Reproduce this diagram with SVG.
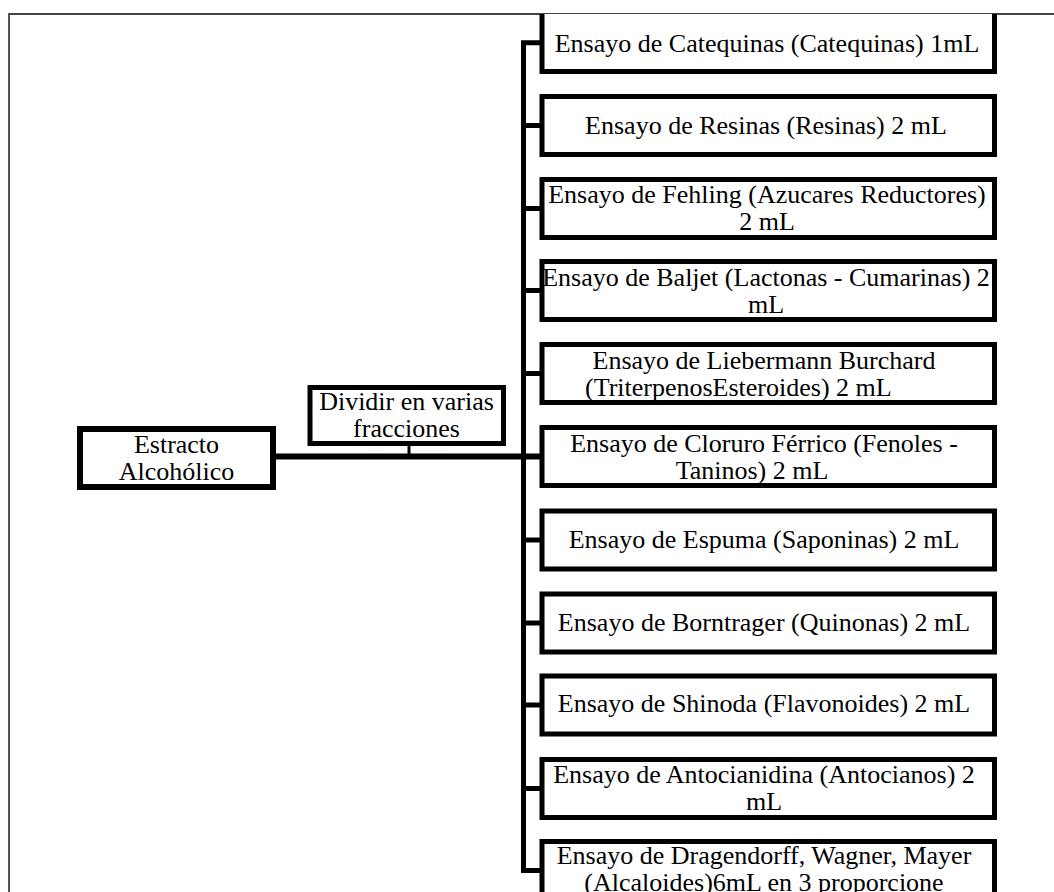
<svg xmlns="http://www.w3.org/2000/svg" width="1054" height="892" viewBox="0 0 1054 892">
<style>
.bx{fill:#fff;stroke:#000;stroke-width:5}
.bxl{fill:#fff;stroke:#000;stroke-width:6}
.t{font-family:"Liberation Serif","Times New Roman",serif;font-size:26px;fill:#000;text-anchor:middle}
.ts{font-family:"Liberation Serif","Times New Roman",serif;font-size:26px;fill:#000;text-anchor:start}
.c{fill:none;stroke:#000;stroke-width:5;stroke-linejoin:miter;stroke-linecap:butt}
</style>
<rect width="1054" height="892" fill="#fff"/>
<path d="M9,892 V14 H1054" fill="none" stroke="#444" stroke-width="1.8"/>
<g id="connectors">
<path class="c" d="M542,42.75 H523.5 V870.5 H542"/>
<line class="c" x1="523.5" y1="125.5" x2="542" y2="125.5"/>
<line class="c" x1="523.5" y1="208.5" x2="542" y2="208.5"/>
<line class="c" x1="523.5" y1="290.5" x2="542" y2="290.5"/>
<line class="c" x1="523.5" y1="373.5" x2="542" y2="373.5"/>
<line class="c" x1="523.5" y1="540" x2="542" y2="540"/>
<line class="c" x1="523.5" y1="623" x2="542" y2="623"/>
<line class="c" x1="523.5" y1="705" x2="542" y2="705"/>
<line class="c" x1="523.5" y1="788.5" x2="542" y2="788.5"/>
<line x1="273" y1="456.5" x2="542" y2="456.5" stroke="#000" stroke-width="6"/>
<line x1="409" y1="443.5" x2="409" y2="456.5" stroke="#000" stroke-width="3"/>
</g>
<g id="n-estracto">
<rect class="bxl" x="80" y="429" width="193" height="58"/>
<text class="t" x="176.5" y="453">Estracto</text>
<text class="t" x="176.5" y="480">Alcohólico</text>
</g>
<g id="n-dividir">
<rect class="bx" x="310" y="387.5" width="193.5" height="56"/>
<text class="t" x="406.5" y="410">Dividir en varias</text>
<text class="t" x="406.5" y="437">fracciones</text>
</g>
<g id="n-catequinas">
<rect x="542" y="14" width="452.5" height="57.5" fill="#fff"/>
<path d="M542,14 V71.5 H994.5 V14" fill="none" stroke="#000" stroke-width="5"/>
<text class="t" x="767" y="51.5">Ensayo de Catequinas (Catequinas) 1mL</text>
</g>
<g id="n-resinas">
<rect class="bx" x="542" y="96.5" width="452.5" height="58"/>
<text class="t" x="766" y="134">Ensayo de Resinas (Resinas) 2 mL</text>
</g>
<g id="n-fehling">
<rect class="bx" x="542" y="179.5" width="452.5" height="58"/>
<text class="t" x="767" y="203">Ensayo de Fehling (Azucares Reductores)</text>
<text class="t" x="767" y="230">2 mL</text>
</g>
<g id="n-baljet">
<rect class="bx" x="542" y="261.5" width="452.5" height="58"/>
<text class="t" x="766" y="285.5">Ensayo de Baljet (Lactonas - Cumarinas) 2</text>
<text class="t" x="766" y="312.5">mL</text>
</g>
<g id="n-liebermann">
<rect class="bx" x="542" y="344.5" width="452.5" height="58"/>
<text class="t" x="764" y="368.5">Ensayo de Liebermann Burchard</text>
<text class="ts" x="585" y="395.5">(TriterpenosEsteroides) 2 mL</text>
</g>
<g id="n-cloruro">
<rect class="bx" x="542" y="427.5" width="452.5" height="58"/>
<text class="t" x="764" y="451.5">Ensayo de Cloruro Férrico (Fenoles -</text>
<text class="t" x="752" y="478.5">Taninos) 2 mL</text>
</g>
<g id="n-espuma">
<rect class="bx" x="542" y="511" width="452.5" height="58"/>
<text class="t" x="764" y="548">Ensayo de Espuma (Saponinas) 2 mL</text>
</g>
<g id="n-borntrager">
<rect class="bx" x="542" y="594" width="452.5" height="58"/>
<text class="t" x="764" y="630.5">Ensayo de Borntrager (Quinonas) 2 mL</text>
</g>
<g id="n-shinoda">
<rect class="bx" x="542" y="676" width="452.5" height="58"/>
<text class="t" x="764" y="712">Ensayo de Shinoda (Flavonoides) 2 mL</text>
</g>
<g id="n-antocianidina">
<rect class="bx" x="542" y="759.5" width="452.5" height="58"/>
<text class="t" x="764" y="782.5">Ensayo de Antocianidina (Antocianos) 2</text>
<text class="t" x="764" y="809.5">mL</text>
</g>
<g id="n-dragendorff">
<rect class="bx" x="542" y="841.5" width="452.5" height="80"/>
<text class="t" x="764" y="864">Ensayo de Dragendorff, Wagner, Mayer</text>
<text class="t" x="764" y="891">(Alcaloides)6mL en 3 proporcione</text>
</g>
</svg>
